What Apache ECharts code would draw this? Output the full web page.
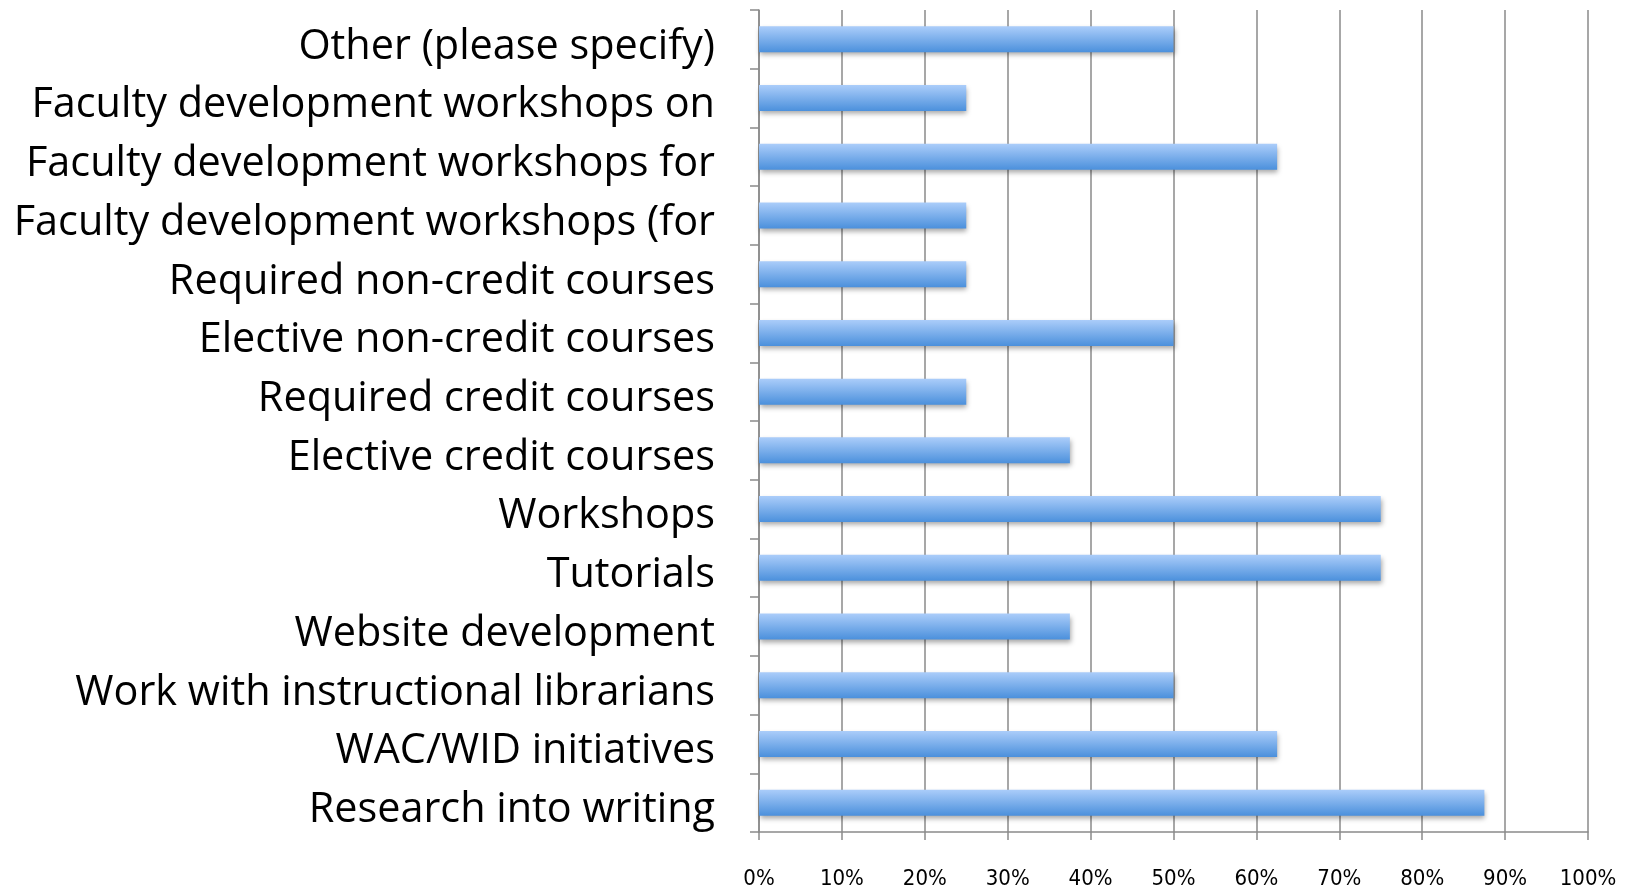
<!DOCTYPE html>
<html><head><meta charset="utf-8">
<script src="https://cdn.jsdelivr.net/npm/echarts@6/dist/echarts.min.js"></script>
<style>html,body{margin:0;padding:0;background:#fff}#c{width:1631px;height:890px}</style>
</head><body><div id="c"></div>
<script>
const categories = [
  "Other (please specify)",
  "Faculty development workshops on",
  "Faculty development workshops for",
  "Faculty development workshops (for",
  "Required non-credit courses",
  "Elective non-credit courses",
  "Required credit courses",
  "Elective credit courses",
  "Workshops",
  "Tutorials",
  "Website development",
  "Work with instructional librarians",
  "WAC/WID initiatives",
  "Research into writing"
];
const values = [50, 25, 62.5, 25, 25, 50, 25, 37.5, 75, 75, 37.5, 50, 62.5, 87.5];
const xTicks = [0, 10, 20, 30, 40, 50, 60, 70, 80, 90, 100];

const chart = echarts.init(document.getElementById('c'));
chart.setOption({
  animation: false,
  grid: {left: 759, right: 43, top: 10, bottom: 56, containLabel: false},
  xAxis: {
    type: 'value', min: 0, max: 100, interval: 10,
    axisLine: {show: true, lineStyle: {color: '#8a8a8a', width: 1.5}},
    axisTick: {show: true, length: 8, lineStyle: {color: '#8a8a8a', width: 1.5}},
    splitLine: {show: true, lineStyle: {color: '#8a8a8a', width: 1.5}},
    axisLabel: {formatter: v => v + '%', margin: 36, fontSize: 22,
      fontFamily: '"Liberation Sans Narrow", "DejaVu Sans Condensed", sans-serif', color: '#000'}
  },
  yAxis: {
    type: 'category', data: categories, inverse: true,
    axisLine: {show: true, lineStyle: {color: '#8a8a8a', width: 1.5}},
    axisTick: {show: true, length: 9, lineStyle: {color: '#8a8a8a', width: 1.5}},
    axisLabel: {margin: 44, color: '#000',
      formatter: v => '{a|' + v + '}',
      rich: {a: {fontSize: 41.4, color: '#000', padding: [15, 0, 0, 0],
        fontFamily: '"Open Sans", Lato, sans-serif'}}}
  },
  series: [{
    type: 'bar', data: values, barWidth: 26,
    itemStyle: {
      color: new echarts.graphic.LinearGradient(0, 0, 0, 1, [
        {offset: 0, color: '#abcdfa'},
        {offset: 1, color: '#4b90dc'}
      ]),
      shadowColor: 'rgba(0,0,0,0.35)', shadowBlur: 5, shadowOffsetX: 1, shadowOffsetY: 3
    }
  }]
});
</script></body></html>
